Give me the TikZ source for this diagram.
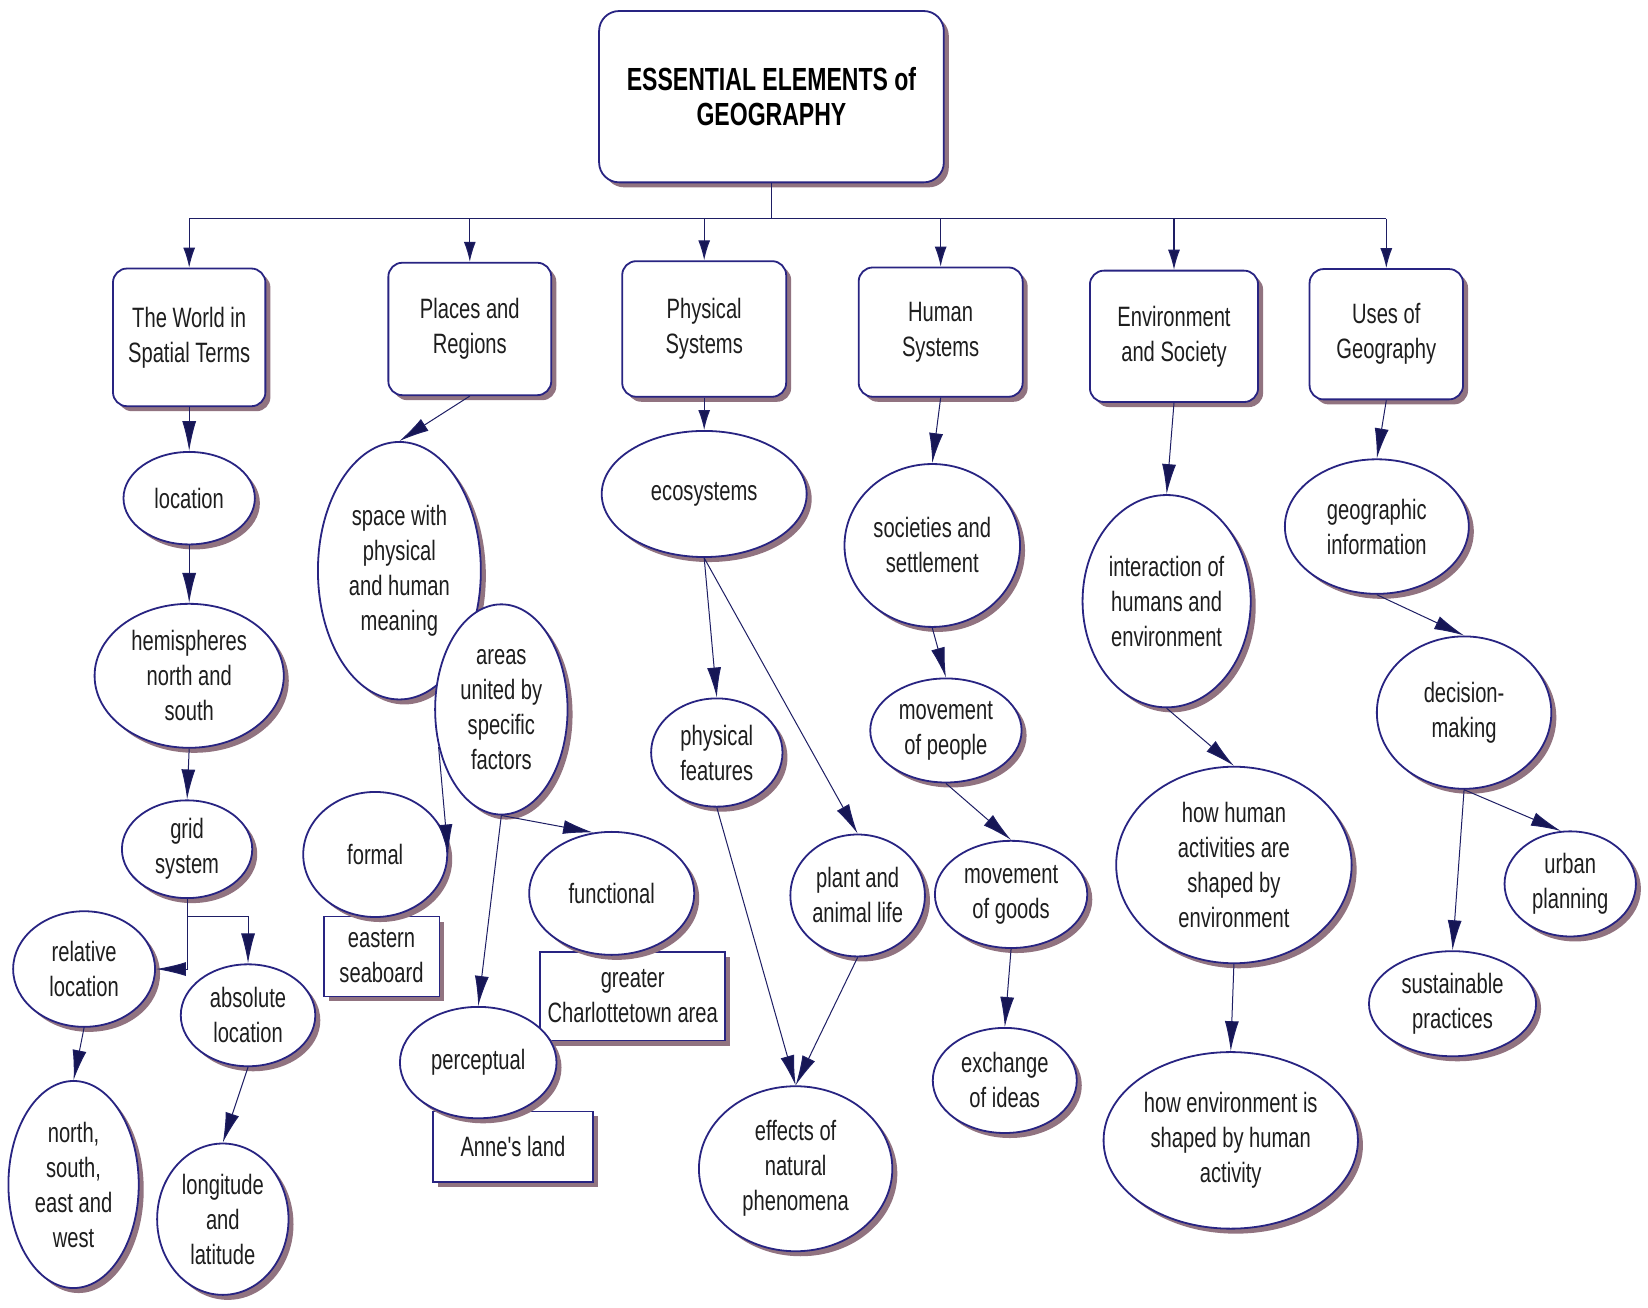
\documentclass[tikz,border=0pt]{standalone}
\usepackage{fontspec}
\setmainfont{Liberation Sans}[FakeStretch=0.72]
\newfontfamily\rawf{Liberation Sans}[FakeStretch=0.72]
\usetikzlibrary{shapes.geometric,shadows,arrows.meta,calc}
\definecolor{bord}{RGB}{40,36,130}
\definecolor{lnc}{RGB}{30,30,100}
\definecolor{headc}{RGB}{22,22,85}
\definecolor{shc}{RGB}{145,115,128}
\definecolor{txc}{RGB}{30,30,30}
\begin{document}
\begin{tikzpicture}[x=1.051pt,y=-1.051pt,
 txt/.style={font=\fontsize{28}{35}\selectfont, text=txc, align=center, inner sep=0pt},
 sh/.style={drop shadow={shadow xshift=5pt,shadow yshift=-5pt,fill=shc,opacity=1}},
 sz/.style 2 args={minimum width=#1*1.051pt,minimum height=#2*1.051pt},
 rbox/.style={draw=bord,line width=1.8pt,fill=white,rounded corners=14pt,sh,txt},
 oval/.style={ellipse,draw=bord,line width=1.8pt,fill=white,sh,inner sep=0pt},
 sqbox/.style={draw=bord,line width=1.6pt,fill=white,sh,txt},
 arr/.style={draw=lnc,line width=1pt,-{Latex[length=30pt,width=14pt,fill=headc]}},
 tarr/.style={draw=lnc,line width=1.2pt,-{Latex[length=20pt,width=12pt,fill=headc]}},
 ln/.style={draw=lnc,line width=1.3pt}]
\fill[white] (0,0) rectangle (1568,1244);
\useasboundingbox (0,0) rectangle (1568,1244);

% top
\node[rbox,rounded corners=20pt,sz={328}{163},font=\bfseries\fontsize{32}{35}\selectfont,text=black] (top) at (734,92) {ESSENTIAL ELEMENTS of\\GEOGRAPHY};

% level 1
\node[rbox,sz={145}{131}] (b1) at (180,321) {The World in\\Spatial Terms};
\node[rbox,sz={155}{126}] (b2) at (447,313) {Places and\\Regions};
\node[rbox,sz={156}{129}] (b3) at (670,313) {Physical\\Systems};
\node[rbox,sz={156}{123}] (b4) at (895,316) {Human\\Systems};
\node[rbox,sz={160}{125}] (b5) at (1117,320) {Environment\\and Society};
\node[rbox,sz={146}{124}] (b6) at (1319,318) {Uses of\\Geography};

% column 1
\node[oval,sz={125}{88},label={[txt]center:location}] (loc) at (180,474) {};
\node[oval,sz={180}{137},label={[txt]center:{hemispheres\\north and\\south}}] (hemi) at (180,643) {};
\node[oval,sz={124}{93},label={[txt]center:{grid\\system}}] (grid) at (178,808) {};
\node[oval,sz={135}{110},label={[txt]center:{relative\\location}}] (rel) at (80,922) {};
\node[oval,sz={128}{97},label={[txt]center:{absolute\\location}}] (abs) at (236,966) {};
\node[oval,sz={124}{197},label={[txt]center:{north,\\south,\\east and\\west}}] (nsew) at (70,1127) {};
\node[oval,sz={125}{144},label={[txt]center:{longitude\\and\\latitude}}] (lonlat) at (212,1160) {};

% column 2 (example boxes first, ellipses overlap them)
\node[sqbox,sz={110}{76}] (east) at (363,910) {eastern\\seaboard};
\node[sqbox,sz={176}{84}] (charl) at (602,948) {greater\\Charlottetown area};
\node[sqbox,sz={152}{67}] (anne) at (488,1091) {{\rawf Anne's land}};
\node[oval,sz={155}{245},label={[txt]center:{space with\\physical\\and human\\meaning}}] (space) at (380,543) {};
\node[oval,sz={126}{200},label={[txt]center:{areas\\united by\\specific\\factors}}] (areas) at (477,675) {};
\node[oval,sz={137}{119},label={[txt]center:formal}] (formal) at (357,813) {};
\node[oval,sz={157}{117},label={[txt]center:functional}] (func) at (582,850) {};
\node[oval,sz={149}{106},label={[txt]center:perceptual}] (percep) at (455,1011) {};

% column 3
\node[oval,sz={195}{120},label={[txt]center:ecosystems}] (eco) at (670,470) {};
\node[oval,sz={125}{103},label={[txt]center:{physical\\features}}] (pf) at (682,716) {};
\node[oval,sz={128}{116},label={[txt]center:{plant and\\animal life}}] (plant) at (816,852) {};
\node[oval,sz={184}{157},label={[txt]center:{effects of\\natural\\phenomena}}] (eff) at (757,1112) {};

% column 4
\node[oval,sz={167}{155},label={[txt]center:{societies and\\settlement}}] (soc) at (887,519) {};
\node[oval,sz={144}{99},label={[txt]center:{movement\\of people}}] (mpeo) at (900,695) {};
\node[oval,sz={145}{102},label={[txt]center:{movement\\of goods}}] (mgoo) at (962,851) {};
\node[oval,sz={137}{100},label={[txt]center:{exchange\\of ideas}}] (exch) at (956,1028) {};

% column 5
\node[oval,sz={160}{202},label={[txt]center:{interaction of\\humans and\\environment}}] (inter) at (1110,572) {};
\node[oval,sz={224}{187},label={[txt]center:{how human\\activities are\\shaped by\\environment}}] (hhum) at (1174,823) {};
\node[oval,sz={242}{168},label={[txt]center:{how environment is\\shaped by human\\activity}}] (henv) at (1171,1085) {};

% column 6
\node[oval,sz={175}{128},label={[txt]center:{geographic\\information}}] (geo) at (1310,501) {};
\node[oval,sz={166}{145},label={[txt]center:{decision-\\making}}] (dec) at (1393,678) {};
\node[oval,sz={125}{100},label={[txt]center:{urban\\planning}}] (urban) at (1494,841) {};
\node[oval,sz={159}{100},label={[txt]center:{sustainable\\practices}}] (sust) at (1382,955) {};

% top connectors
\coordinate (j) at (736,208);
\draw[ln] (top.south) -- (top.south |- j);
\draw[ln] (b1.north |- j) -- (b6.north |- j);
\foreach \b in {b1,b2,b3,b4,b5,b6} \draw[tarr] (\b.north |- j) -- (\b.north);

% column 1 connectors
\draw[arr] (b1.south) -- (loc.north);
\draw[arr] (loc.south) -- (hemi.north);
\draw[arr] (hemi.south) -- (grid.north);
\draw[arr] (grid.south) |- (rel.east);
\draw[arr] (grid.south) -- ($(grid.south)+(0,17)$) -| (abs.north);
\draw[arr] (rel.south) -- (nsew.north);
\draw[arr] (abs.south) -- (lonlat.north);

% column 2 connectors
\draw[arr] (b2.south) -- (space.north);
\draw[arr] (areas.211) -- (formal.east);
\draw[arr] (areas.south) -- (func.107);
\draw[arr] (areas.south) -- (percep.north);

% column 3 connectors
\draw[tarr] (b3.south) -- (eco.north);
\draw[arr] (eco.south) -- (pf.north);
\draw[arr] (eco.south) -- (plant.north);
\draw[arr] (pf.south) -- (eff.north);
\draw[arr] (plant.south) -- (eff.north);

% column 4 connectors
\draw[arr] (b4.south) -- (soc.north);
\draw[arr] (soc.south) -- (mpeo.north);
\draw[arr] (mpeo.south) -- (mgoo.north);
\draw[arr] (mgoo.south) -- (exch.north);

% column 5 connectors
\draw[arr] (b5.south) -- (inter.north);
\draw[arr] (inter.south) -- (hhum.north);
\draw[arr] (hhum.south) -- (henv.north);

% column 6 connectors
\draw[arr] (b6.south) -- (geo.north);
\draw[arr] (geo.south) -- (dec.north);
\draw[arr] (dec.south) -- (urban.100);
\draw[arr] (dec.south) -- (sust.north);
\end{tikzpicture}
\end{document}
